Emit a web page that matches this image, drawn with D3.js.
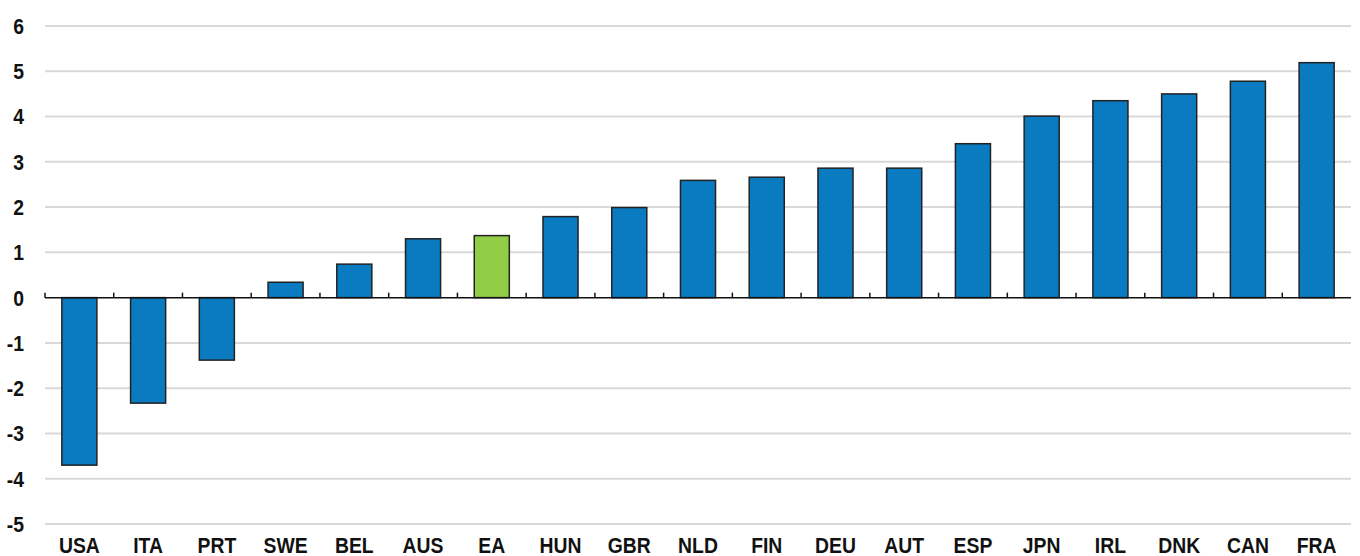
<!DOCTYPE html>
<html>
<head>
<meta charset="utf-8">
<script src="https://cdn.jsdelivr.net/npm/d3@7"></script>
<style>
  body { margin: 0; background: #fff; }
  text { font-family: "Liberation Sans", Arial, sans-serif; font-weight: bold; fill: #111; }
</style>
</head>
<body>
<svg id="chart"></svg>
<script>
// chart data
var countries = ["USA", "ITA", "PRT", "SWE", "BEL", "AUS", "EA", "HUN", "GBR", "NLD",
                 "FIN", "DEU", "AUT", "ESP", "JPN", "IRL", "DNK", "CAN", "FRA"];
var values = [-3.7, -2.33, -1.38, 0.34, 0.74, 1.3, 1.37, 1.79, 1.99, 2.59,
              2.66, 2.86, 2.86, 3.4, 4.01, 4.35, 4.5, 4.78, 5.19];
var highlight = ["EA"];
var yTicks = [6, 5, 4, 3, 2, 1, 0, -1, -2, -3, -4, -5];

var width = 1360, height = 556;
var margin = {top: 26, right: 9, bottom: 32, left: 45};
var fontSize = 22, squeeze = 0.88;

var svg = d3.select("#chart")
    .attr("width", width)
    .attr("height", height);

var x = d3.scaleBand()
    .domain(countries)
    .range([margin.left, width - margin.right])
    .paddingInner(0.49)
    .paddingOuter(0.245);

var y = d3.scaleLinear()
    .domain([-5, 6])
    .range([height - margin.bottom, margin.top]);

// horizontal gridlines
svg.append("g")
    .selectAll("line")
    .data(yTicks.filter(function(d) { return d !== 0; }))
    .enter()
    .append("line")
    .attr("x1", margin.left)
    .attr("x2", width - margin.right)
    .attr("y1", function(d) { return y(d); })
    .attr("y2", function(d) { return y(d); })
    .attr("stroke", "#d9d9d9")
    .attr("stroke-width", 2);

// y labels (narrow bold look of the original)
svg.append("g")
    .selectAll("text")
    .data(yTicks)
    .enter()
    .append("text")
    .attr("transform", function(d) { return "translate(24," + y(d) + ") scale(" + squeeze + ",1)"; })
    .attr("dy", "0.36em")
    .attr("text-anchor", "end")
    .attr("font-size", fontSize + "px")
    .text(function(d) { return d; });

// bars
svg.append("g")
    .selectAll("rect")
    .data(countries)
    .enter()
    .append("rect")
    .attr("x", function(d) { return x(d); })
    .attr("width", x.bandwidth())
    .attr("y", function(d, i) { return y(Math.max(0, values[i])); })
    .attr("height", function(d, i) { return Math.abs(y(values[i]) - y(0)); })
    .attr("fill", function(d) { return highlight.indexOf(d) >= 0 ? "#92cd48" : "#0a7bc1"; })
    .attr("stroke", "#222")
    .attr("stroke-width", 1.5);

// zero axis with tick marks between categories
var step = x.step();
var boundaries = d3.range(countries.length).map(function(i) { return margin.left + i * step; });

svg.append("line")
    .attr("x1", margin.left)
    .attr("x2", width - margin.right)
    .attr("y1", y(0))
    .attr("y2", y(0))
    .attr("stroke", "#111")
    .attr("stroke-width", 1.5);

svg.append("g")
    .selectAll("line")
    .data(boundaries)
    .enter()
    .append("line")
    .attr("x1", function(d) { return d; })
    .attr("x2", function(d) { return d; })
    .attr("y1", y(0))
    .attr("y2", y(0) - 5)
    .attr("stroke", "#111")
    .attr("stroke-width", 1.5);

// category labels
svg.append("g")
    .selectAll("text")
    .data(countries)
    .enter()
    .append("text")
    .attr("transform", function(d) {
        return "translate(" + (x(d) + x.bandwidth() / 2) + "," + (height - 3.5) + ") scale(" + squeeze + ",1)";
    })
    .attr("text-anchor", "middle")
    .attr("font-size", fontSize + "px")
    .text(function(d) { return d; });
</script>
</body>
</html>
